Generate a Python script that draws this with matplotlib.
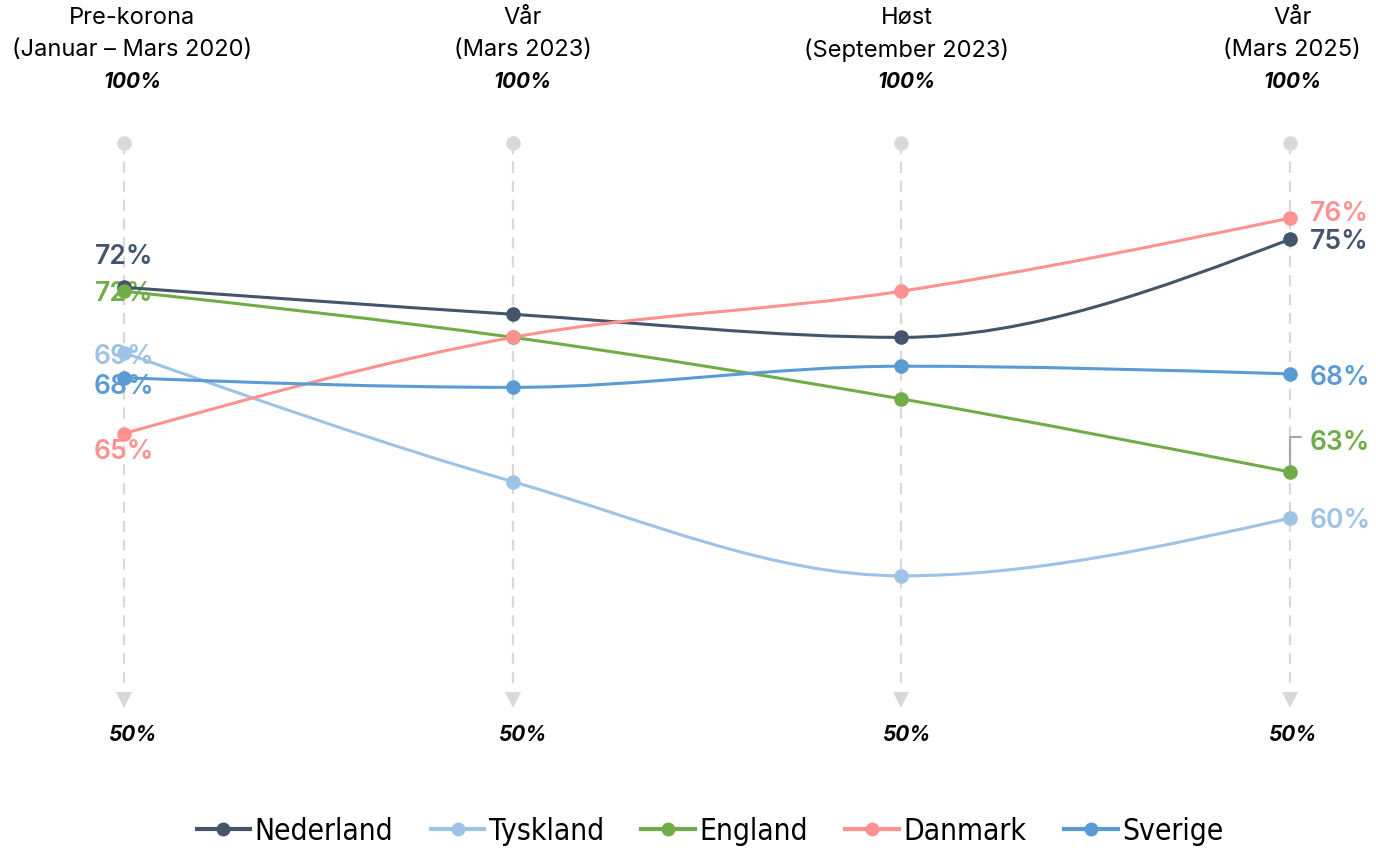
import matplotlib
matplotlib.use("Agg")
import matplotlib.pyplot as plt
from matplotlib import font_manager
from matplotlib.path import Path
from matplotlib.patches import PathPatch
from matplotlib.lines import Line2D
from matplotlib.transforms import blended_transform_factory, offset_copy
import numpy as np

# Data (share of pre-corona level, %)
periods = ["Pre-korona", "Vår", "Høst", "Vår"]
period_dates = ["(Januar – Mars 2020)", "(Mars 2023)", "(September 2023)", "(Mars 2025)"]
countries = ["Nederland", "Tyskland", "England", "Danmark", "Sverige"]
nederland = [72.4, 71.0, 69.8, 74.9]
tyskland = [69.0, 62.3, 57.4, 60.4]
england = [72.2, 69.8, 66.6, 62.8]
danmark = [64.8, 69.8, 72.2, 76.0]
sverige = [67.7, 67.2, 68.3, 67.9]
series = [nederland, tyskland, england, danmark, sverige]
colors = ["#44546a", "#9dc3e6", "#70ad47", "#ff9191", "#5b9bd5"]

# label offsets in points, in series order (left column, right column)
left_offsets = [22, -3, -2, -13, -7]
right_offsets = [-2, -2, 21, 3, -3]
# header / footer nudges in pixels
header_shift = [8, 10, 5, 2]

ttf = font_manager.fontManager.ttflist
available = {f.name for f in ttf}
main_font = "Inter" if "Inter" in available else "DejaVu Sans"
plt.rcParams["font.family"] = [main_font, "DejaVu Sans"]

# a narrow sans for the legend, if there is one
narrow = [f for f in ttf
          if ("Narrow" in f.name or "Condensed" in f.name or f.stretch in ("condensed", "semi-condensed"))
          and f.weight in (400, "normal", "regular") and f.style == "normal"
          and "Mono" not in f.name and "Serif" not in f.name]
if narrow:
    legend_prop = font_manager.FontProperties(fname=narrow[0].fname, size=21.5)
else:
    legend_prop = font_manager.FontProperties(family=main_font, size=18)

AXIS_TOP = 79.9
AXIS_BOTTOM = 50.95
GRID = "#d9d9d9"


def monotone_path(xs, ys):
    """Cubic bezier path with monotone (d3 curveMonotoneX style) tangents."""
    n = len(xs)
    h = np.diff(xs)
    s = np.diff(ys) / h
    t = np.zeros(n)
    for i in range(1, n - 1):
        p = (s[i - 1] * h[i] + s[i] * h[i - 1]) / (h[i - 1] + h[i])
        t[i] = (np.sign(s[i - 1]) + np.sign(s[i])) * min(abs(s[i - 1]), abs(s[i]), 0.5 * abs(p))
    t[0] = (3 * s[0] - t[1]) / 2
    t[-1] = (3 * s[-1] - t[-2]) / 2
    verts = [(xs[0], ys[0])]
    codes = [Path.MOVETO]
    for i in range(n - 1):
        dx = h[i] / 3
        verts += [(xs[i] + dx, ys[i] + dx * t[i]),
                  (xs[i + 1] - dx, ys[i + 1] - dx * t[i + 1]),
                  (xs[i + 1], ys[i + 1])]
        codes += [Path.CURVE4] * 3
    return Path(verts, codes)


fig = plt.figure(figsize=(13.76, 8.48), dpi=100)
ax = fig.add_axes([0, 0, 1, 1])
ax.set_xlim(-0.319, 3.221)
ax.set_ylim(43.25, 87.34)
ax.axis("off")

x = np.arange(len(periods))
top_tr = blended_transform_factory(ax.transData, fig.transFigure)

# vertical axes
for xi in x:
    ax.plot([xi, xi], [AXIS_TOP, AXIS_BOTTOM + 0.5], color=GRID, lw=1.6,
            dashes=(5, 3.5), zorder=1)
    ax.plot(xi, AXIS_TOP, "o", color=GRID, ms=10.5, mew=0, zorder=1)
    ax.plot(xi, AXIS_BOTTOM, "v", color=GRID, ms=11, mew=0, zorder=1)

# headers and footers
for xi, name, date, dx in zip(x, periods, period_dates, header_shift):
    tr = offset_copy(top_tr, fig=fig, x=dx, y=0, units="dots")
    ax.text(xi, 1 - 18 / 848, name, transform=tr, ha="center", va="center",
            fontsize=17)
    ax.text(xi, 1 - 50 / 848, date, transform=tr, ha="center", va="center",
            fontsize=17)
    ax.text(xi, 1 - 82 / 848, "100%", transform=tr, ha="center", va="center",
            fontsize=15, fontweight="bold", fontstyle="italic")
    ax.text(xi, 1 - 735 / 848, "50%", transform=tr, ha="center", va="center",
            fontsize=15, fontweight="bold", fontstyle="italic")

# series
for vals, color, lo, ro in zip(series, colors, left_offsets, right_offsets):
    path = monotone_path(x.astype(float), np.array(vals, dtype=float))
    ax.add_patch(PathPatch(path, facecolor="none", edgecolor=color, lw=2.2,
                           capstyle="round", zorder=3))
    ax.plot(x, vals, "o", color=color, ms=10.5, mew=0, zorder=4)
    ax.annotate(f"{round(vals[0])}%", (x[0], vals[0]), xytext=(0, lo),
                textcoords="offset points", ha="center", va="center",
                color=color, fontsize=19, fontweight="semibold", zorder=2)
    ax.annotate(f"{round(vals[-1])}%", (x[-1], vals[-1]), xytext=(14, ro),
                textcoords="offset points", ha="left", va="center",
                color=color, fontsize=19, fontweight="semibold", zorder=2)

# leader line for England's end label
eng_end = england[-1]
ax.annotate("", xy=(x[-1], eng_end), xytext=(x[-1] + 0.028, eng_end + 1.8),
            arrowprops=dict(arrowstyle="-", color="#a6a6a6", lw=1.5,
                            connectionstyle="angle,angleA=0,angleB=90,rad=0",
                            shrinkA=0, shrinkB=0), zorder=3)

# legend
handles = [Line2D([], [], color=c, lw=3, marker="o", ms=9) for c in colors]
fig.legend(handles, countries, loc="center", bbox_to_anchor=(710 / 1376, 1 - 831 / 848),
           ncol=5, frameon=False, handlelength=1.8, handletextpad=0.15,
           columnspacing=1.25, prop=legend_prop)

fig.savefig("out.png", dpi=100)
